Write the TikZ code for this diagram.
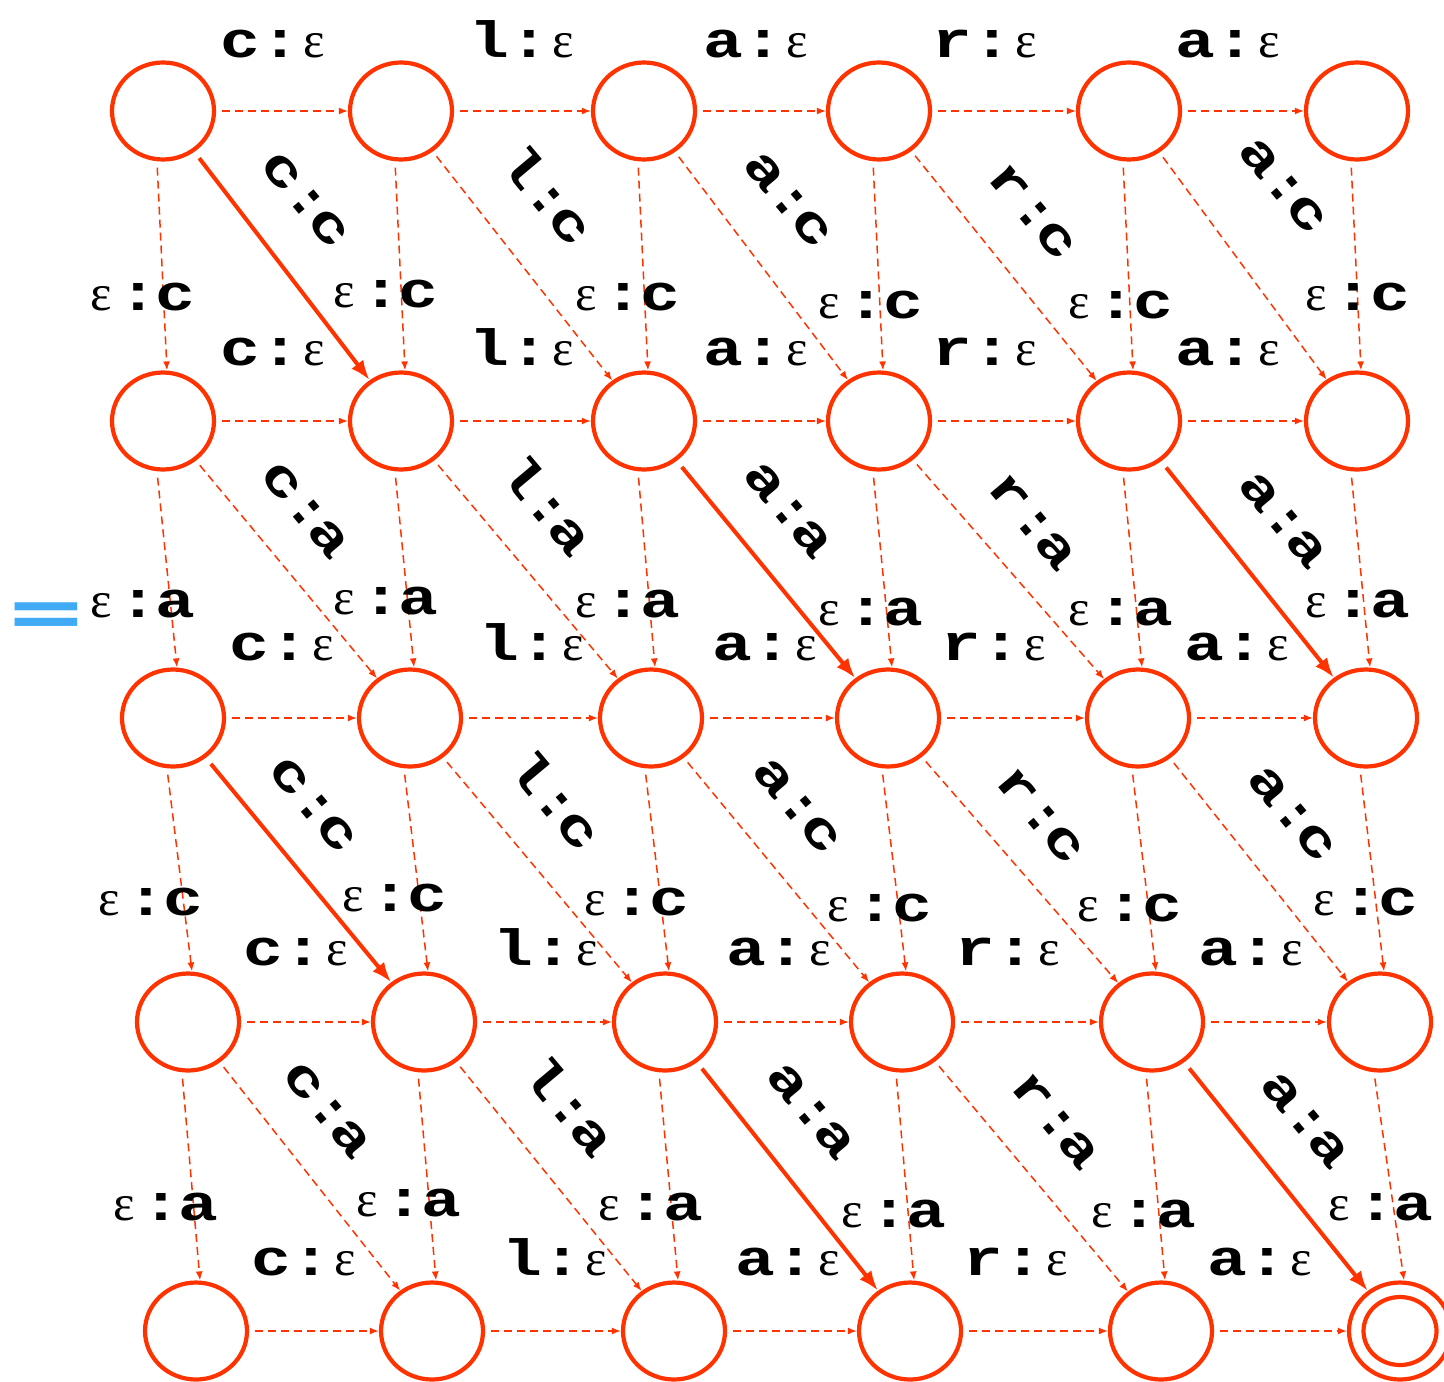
\documentclass[tikz,border=0pt]{standalone}
\usepackage{fontspec}
\usetikzlibrary{arrows.meta,shapes.geometric}
\newfontfamily\lmono{Liberation Mono}[FakeStretch=1.3]
\newfontfamily\lserif{Liberation Serif}
\newfontfamily\dsans{DejaVu Sans}
\definecolor{rd}{RGB}{255,51,0}
\definecolor{bl}{RGB}{64,170,245}
\newcommand\cel[1]{\makebox[18.5pt]{#1}}
\newcommand\ep{{\lserif\mdseries ε}}
\newcommand\hl[1]{\cel{#1}\cel{\hspace{3pt}:}\cel{\ep}}
\newcommand\vl[1]{\cel{\ep}\cel{:}\cel{#1}}
\newcommand\dl[2]{\cel{#1}\cel{\hspace{3pt}:}\cel{#2}}
\begin{document}
\begin{tikzpicture}[x=0.5pt,y=-0.5pt,
  st/.style={ellipse,draw=rd,line width=2.1pt,minimum width=51pt,minimum height=48.5pt,inner sep=0pt},
  thin/.style={draw=rd,line width=0.75pt,dash pattern=on 4pt off 2.5pt,-{Latex[length=4.5pt,width=3.5pt]},shorten <=3pt},
  thick/.style={draw=rd,line width=2pt,-{Latex[length=10pt,width=7.5pt]},shorten <=4pt},
  lab/.style={font={\fontsize{25.5}{25.5}\lmono\bfseries},inner sep=0pt,anchor=base},
  dlab/.style={font={\fontsize{25.5}{25.5}\lmono\bfseries},inner sep=0pt,anchor=center,rotate=-50}]
\useasboundingbox (0,0) rectangle (1444,1381);
% states
\node[st] (n11) at (163,111) {}; \node[st] (n12) at (401,111) {}; \node[st] (n13) at (644,111) {};
\node[st] (n14) at (879,111) {}; \node[st] (n15) at (1129,111) {}; \node[st] (n16) at (1357,111) {};
\node[st] (n21) at (163,421) {}; \node[st] (n22) at (401,421) {}; \node[st] (n23) at (644,421) {};
\node[st] (n24) at (879,421) {}; \node[st] (n25) at (1129,421) {}; \node[st] (n26) at (1357,421) {};
\node[st] (n31) at (173,718) {}; \node[st] (n32) at (410,718) {}; \node[st] (n33) at (651,718) {};
\node[st] (n34) at (888,718) {}; \node[st] (n35) at (1138,718) {}; \node[st] (n36) at (1366,718) {};
\node[st] (n41) at (188,1022) {}; \node[st] (n42) at (424,1022) {}; \node[st] (n43) at (665,1022) {};
\node[st] (n44) at (902,1022) {}; \node[st] (n45) at (1152,1022) {}; \node[st] (n46) at (1380,1022) {};
\node[st] (n51) at (196,1331) {}; \node[st] (n52) at (432,1331) {}; \node[st] (n53) at (674,1331) {};
\node[st] (n54) at (910,1331) {}; \node[st] (n55) at (1161,1331) {}; \node[st] (n56) at (1400,1331) {};
\node[st,minimum width=36.5pt,minimum height=34pt] (n56i) at (1400,1331) {};
% horizontal edges
\foreach \r in {1,...,5}{
  \foreach \c/\d in {1/2,2/3,3/4,4/5,5/6}{
    \draw[thin] (n\r\c) -- (n\r\d);
  }
}
% vertical edges
\foreach \r/\s in {1/2,2/3,3/4,4/5}{
  \foreach \c in {1,...,6}{
    \draw[thin] ([xshift=-3pt]n\r\c.south) -- ([xshift=2pt]n\s\c.north);
  }
}
% diagonal edges
\foreach \c/\d in {2/3,3/4,4/5,5/6}{\draw[thin] (n1\c) -- (n2\d);}
\foreach \c/\d in {1/2,2/3,4/5}{\draw[thin] (n2\c) -- (n3\d);}
\foreach \c/\d in {2/3,3/4,4/5,5/6}{\draw[thin] (n3\c) -- (n4\d);}
\foreach \c/\d in {1/2,2/3,4/5}{\draw[thin] (n4\c) -- (n5\d);}
\draw[thick] (n11) -- (n22);
\draw[thick] (n23) -- (n34);
\draw[thick] (n25) -- (n36);
\draw[thick] (n31) -- (n42);
\draw[thick] (n43) -- (n54);
\draw[thick] (n45) -- (n56);
% horizontal labels
\node[lab] (h11) at (277,57) {\hl{c}}; \node[lab] (h12) at (526,57) {\hl{l}}; \node[lab] (h13) at (760,57) {\hl{a}};
\node[lab] (h14) at (989,57) {\hl{r}}; \node[lab] (h15) at (1232,57) {\hl{a}};
\node[lab] (h21) at (277,365) {\hl{c}}; \node[lab] (h22) at (526,365) {\hl{l}}; \node[lab] (h23) at (760,365) {\hl{a}};
\node[lab] (h24) at (989,365) {\hl{r}}; \node[lab] (h25) at (1232,365) {\hl{a}};
\node[lab] (h31) at (286,660) {\hl{c}}; \node[lab] (h32) at (536,660) {\hl{l}}; \node[lab] (h33) at (769,660) {\hl{a}};
\node[lab] (h34) at (998,660) {\hl{r}}; \node[lab] (h35) at (1241,660) {\hl{a}};
\node[lab] (h41) at (300,965) {\hl{c}}; \node[lab] (h42) at (550,965) {\hl{l}}; \node[lab] (h43) at (783,965) {\hl{a}};
\node[lab] (h44) at (1012,965) {\hl{r}}; \node[lab] (h45) at (1255,965) {\hl{a}};
\node[lab] (h51) at (308,1275) {\hl{c}}; \node[lab] (h52) at (559,1275) {\hl{l}}; \node[lab] (h53) at (792,1275) {\hl{a}};
\node[lab] (h54) at (1020,1275) {\hl{r}}; \node[lab] (h55) at (1264,1275) {\hl{a}};
% vertical labels
\node[lab] (v11) at (138,310) {\vl{c}}; \node[lab] (v12) at (381,307) {\vl{c}}; \node[lab] (v13) at (623,310) {\vl{c}};
\node[lab] (v14) at (866,318) {\vl{c}}; \node[lab] (v15) at (1116,318) {\vl{c}}; \node[lab] (v16) at (1353,310) {\vl{c}};
\node[lab] (v21) at (138,617) {\vl{a}}; \node[lab] (v22) at (381,614) {\vl{a}}; \node[lab] (v23) at (623,617) {\vl{a}};
\node[lab] (v24) at (866,625) {\vl{a}}; \node[lab] (v25) at (1116,625) {\vl{a}}; \node[lab] (v26) at (1353,617) {\vl{a}};
\node[lab] (v31) at (146,915) {\vl{c}}; \node[lab] (v32) at (390,911) {\vl{c}}; \node[lab] (v33) at (632,915) {\vl{c}};
\node[lab] (v34) at (875,921) {\vl{c}}; \node[lab] (v35) at (1125,921) {\vl{c}}; \node[lab] (v36) at (1361,915) {\vl{c}};
\node[lab] (v41) at (161,1220) {\vl{a}}; \node[lab] (v42) at (404,1216) {\vl{a}}; \node[lab] (v43) at (646,1220) {\vl{a}};
\node[lab] (v44) at (889,1227) {\vl{a}}; \node[lab] (v45) at (1139,1227) {\vl{a}}; \node[lab] (v46) at (1376,1220) {\vl{a}};
% diagonal labels
\node[dlab] (d11) at (305,200) {\dl{c}{c}}; \node[dlab] (d12) at (548,195) {\dl{l}{c}}; \node[dlab] (d13) at (788,200) {\dl{a}{c}};
\node[dlab] (d14) at (1032,212) {\dl{r}{c}}; \node[dlab] (d15) at (1283,186) {\dl{a}{c}};
\node[dlab] (d21) at (305,510) {\dl{c}{a}}; \node[dlab] (d22) at (548,505) {\dl{l}{a}}; \node[dlab] (d23) at (788,510) {\dl{a}{a}};
\node[dlab] (d24) at (1032,522) {\dl{r}{a}}; \node[dlab] (d25) at (1283,520) {\dl{a}{a}};
\node[dlab] (d31) at (313,805) {\dl{c}{c}}; \node[dlab] (d32) at (556,800) {\dl{l}{c}}; \node[dlab] (d33) at (797,806) {\dl{a}{c}};
\node[dlab] (d34) at (1040,816) {\dl{r}{c}}; \node[dlab] (d35) at (1292,814) {\dl{a}{c}};
\node[dlab] (d41) at (327,1110) {\dl{c}{a}}; \node[dlab] (d42) at (570,1106) {\dl{l}{a}}; \node[dlab] (d43) at (811,1111) {\dl{a}{a}};
\node[dlab] (d44) at (1055,1121) {\dl{r}{a}}; \node[dlab] (d45) at (1305,1120) {\dl{a}{a}};
% equals sign
\node[inner sep=0pt,text=bl,font={\fontsize{50}{50}\dsans\bfseries}] (eq) at (46,620) {\scalebox{1}[0.7]{=}};
\end{tikzpicture}
\end{document}
